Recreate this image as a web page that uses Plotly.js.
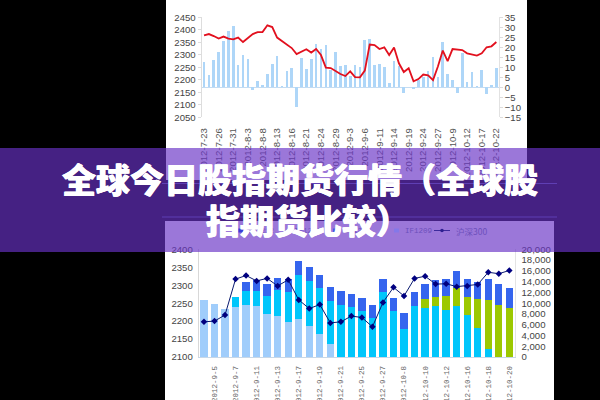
<!DOCTYPE html>
<html><head><meta charset="utf-8">
<script src="https://cdn.plot.ly/plotly-3.0.1.min.js"></script>
<style>html,body{margin:0;padding:0;background:#000;overflow:hidden}#c{width:600px;height:400px}</style>
</head><body><div id="c"></div>
<script>
const topDates=["2012-7-23","2012-7-24","2012-7-25","2012-7-26","2012-7-27","2012-7-30","2012-7-31","2012-8-1","2012-8-2","2012-8-3","2012-8-6","2012-8-7","2012-8-8","2012-8-9","2012-8-10","2012-8-13","2012-8-14","2012-8-15","2012-8-16","2012-8-17","2012-8-20","2012-8-21","2012-8-22","2012-8-23","2012-8-24","2012-8-27","2012-8-28","2012-8-29","2012-8-30","2012-8-31","2012-9-3","2012-9-4","2012-9-5","2012-9-6","2012-9-7","2012-9-10","2012-9-11","2012-9-12","2012-9-13","2012-9-14","2012-9-17","2012-9-18","2012-9-19","2012-9-20","2012-9-21","2012-9-24","2012-9-25","2012-9-26","2012-9-27","2012-9-28","2012-10-8","2012-10-9","2012-10-10","2012-10-11","2012-10-12","2012-10-15","2012-10-16","2012-10-17","2012-10-18","2012-10-19","2012-10-22"];
const topTicks=["2012-7-23","2012-7-26","2012-7-31","2012-8-3","2012-8-8","2012-8-13","2012-8-16","2012-8-21","2012-8-24","2012-8-29","2012-9-3","2012-9-6","2012-9-11","2012-9-14","2012-9-19","2012-9-24","2012-9-27","2012-10-9","2012-10-12","2012-10-17","2012-10-22"];
const topBars=[12.7,6.3,13.8,17.7,23.3,28,30.5,11,16.3,14.2,-1.2,3.3,1.3,6.5,11.8,15.8,0.5,8,9.7,-10,14.7,9.3,14.2,21.5,19.3,21.3,8.8,17.5,10.5,11,5.8,11.3,10,23.5,24.3,11,11.7,10.3,2.2,13.3,10.8,-2.8,0.4,-0.8,3.8,5.2,8.3,15.2,5.2,22.7,6.5,3.7,-2.7,17.2,2.7,7.7,0.7,8.7,-3.5,1.3,9.7];
const topLine=[2378,2383,2375,2365,2373,2365,2362,2369,2351,2369,2383,2391,2391,2418,2411,2369,2355,2339,2327,2303,2314,2322,2309,2323,2299,2249,2247,2235,2223,2215,2234,2211,2210,2237,2341,2339,2323,2330,2299,2329,2266,2231,2246,2194,2203,2221,2218,2199,2253,2317,2275,2323,2322,2319,2306,2301,2297,2306,2330,2334,2351];
const topLeftTicks=[2050,2100,2150,2200,2250,2300,2350,2400,2450];
const topRightTicks=[-15,-10,-5,0,5,10,15,20,25,30,35];

const botDates=["2012-9-4","2012-9-5","2012-9-6","2012-9-7","2012-9-10","2012-9-11","2012-9-12","2012-9-13","2012-9-14","2012-9-17","2012-9-18","2012-9-19","2012-9-20","2012-9-21","2012-9-24","2012-9-25","2012-9-26","2012-9-27","2012-9-28","2012-10-8","2012-10-9","2012-10-10","2012-10-11","2012-10-12","2012-10-15","2012-10-16","2012-10-17","2012-10-18","2012-10-19","2012-10-20"];
const botTicks=["2012-9-5","2012-9-7","2012-9-11","2012-9-13","2012-9-17","2012-9-19","2012-9-21","2012-9-25","2012-9-27","2012-10-8","2012-10-10","2012-10-12","2012-10-16","2012-10-18","2012-10-20"];
const if1209=[10590,9845,8980,9226,9721,9473,7987,7616,6501,7059,5820,4334,2477,0,0,0,0,0,0,0,0,0,0,0,0,0,0,0,0,0];
const if1210=[0,0,0,1920,2477,2725,3344,4892,5573,8173,8298,8421,7925,9659,9226,8545,7244,12074,8545,5201,9473,9164,9473,8792,9473,7864,5325,1548,0,0];
const if1211=[0,0,0,0,0,0,0,0,0,0,0,0,0,0,0,0,0,0,0,0,0,1672,1610,2601,3406,3282,5511,9102,9721,9102];
const if1212=[0,0,0,0,1796,2042,2291,2167,2353,2539,2538,2415,2539,2601,2539,2476,2415,2353,2353,2972,2539,2662,3220,3034,3158,3281,3034,3901,3777,3777];
const hs300=[2198,2200,2217,2317,2327,2312,2319,2298,2315,2259,2235,2246,2195,2198,2214,2210,2184,2252,2294,2270,2319,2325,2303,2304,2296,2298,2302,2336,2332,2341];
const botLeftTicks=[2100,2150,2200,2250,2300,2350,2400];
const botRightTicks=[0,2000,4000,6000,8000,10000,12000,14000,16000,18000,20000];
const titleLines=["全球今日股指期货行情（全球股","指期货比较）"];
const legendNames=["IF1212","IF1211","IF1210","IF1209","沪深300"];

const W=600,H=400, fx=v=>v/W, fy=v=>1-v/H;
const tickFont={family:'"Liberation Sans",Arial,sans-serif',size:9.6,color:'#444'};
const bar=(y,n,c)=>({type:'bar',x:botDates,y,name:n,xaxis:'x2',yaxis:'y3',marker:{color:c},width:0.7,hoverinfo:'skip'});
const data=[
 {type:'bar',x:topDates,y:topBars,xaxis:'x',yaxis:'y',marker:{color:'#aed6f8'},width:0.55,name:'bars'},
 {type:'scatter',mode:'lines',x:topDates,y:topLine,xaxis:'x',yaxis:'y2',line:{color:'#e2101e',width:1.8},name:'line'},
 bar(if1209,'IF1209','#a0cdfb'),
 bar(if1210,'IF1210','#00c6fb'),
 bar(if1211,'IF1211','#9cc800'),
 bar(if1212,'IF1212','#3565ee'),
 {type:'scatter',mode:'lines+markers',x:botDates,y:hs300,xaxis:'x2',yaxis:'y4',name:'沪深300',line:{color:'#0a1a70',width:1},marker:{color:'#000080',size:5,symbol:'diamond'}}
];
const rect=(x0,y0,x1,y1,color,layer)=>({type:'rect',xref:'paper',yref:'paper',x0:fx(x0),x1:fx(x1),y0:fy(y0),y1:fy(y1),fillcolor:color,line:{width:0},layer});
const hline=(y,x0,x1,color)=>({type:'line',xref:'paper',yref:'paper',x0:fx(x0),x1:fx(x1),y0:fy(y),y1:fy(y),line:{color,width:1},layer:'above'});
const dot=(x,y,r,color)=>({type:'circle',xref:'paper',yref:'paper',x0:fx(x-r),x1:fx(x+r),y0:fy(y+r),y1:fy(y-r),fillcolor:color,line:{width:0},layer:'above'});
const legendText=(t,x,size,fam)=>({xref:'paper',yref:'paper',x:fx(x),y:fy(230.5),xanchor:'left',yanchor:'middle',showarrow:false,text:t,font:{family:fam,size:size,color:'#6c4fbb'}});
const mono='"Liberation Mono",monospace';
const titleAnn=(t,x,y)=>({xref:'paper',yref:'paper',x:fx(x),y:fy(y),xanchor:'center',yanchor:'middle',showarrow:false,text:t,font:{family:'"Noto Sans CJK SC",sans-serif',size:34,color:'#fff',weight:900,shadow:'0.5px 0 0 #fff, -0.5px 0 0 #fff'}});
const clear='rgba(0,0,0,0)';
const layout={
 width:W,height:H,margin:{l:0,r:0,t:0,b:0,pad:0},paper_bgcolor:'#000',plot_bgcolor:clear,
 showlegend:false,barmode:'stack',
 xaxis:{domain:[fx(201.6),fx(498.8)],anchor:'y',type:'category',categoryorder:'array',categoryarray:topDates,range:[-0.5,60.5],tickmode:'array',tickvals:topTicks,ticktext:topTicks,tickangle:-90,ticks:'outside',ticklen:6,tickcolor:clear,showgrid:false,showline:false,zeroline:false,tickfont:{family:tickFont.family,size:9.6,color:'#555'},automargin:false},
 yaxis:{domain:[fy(117.3),fy(17.3)],anchor:'x',side:'right',range:[-15,35],tickvals:topRightTicks,ticks:'outside',ticklen:3,tickcolor:'#ddd',showline:true,linecolor:'#e2e2e2',showgrid:false,zeroline:true,zerolinecolor:'#c4dcf2',zerolinewidth:1,tickfont:tickFont,automargin:false},
 yaxis2:{overlaying:'y',anchor:'x',side:'left',range:[2050,2450],tickvals:topLeftTicks,ticks:'outside',ticklen:3,tickcolor:'#ddd',showline:true,linecolor:'#ddd',showgrid:false,zeroline:false,tickfont:tickFont,automargin:false},
 xaxis2:{domain:[fx(198.7),fx(514.6)],anchor:'y3',type:'category',categoryorder:'array',categoryarray:botDates,range:[-0.5,29.5],tickmode:'array',tickvals:botTicks,ticktext:botTicks,tickangle:-90,ticks:'outside',ticklen:5,tickcolor:clear,showgrid:false,showline:true,linecolor:'#c8d8e8',zeroline:false,tickfont:{family:mono,size:7.5,color:'#666'},automargin:false},
 yaxis3:{domain:[fy(357),fy(249.3)],anchor:'x2',side:'right',range:[0,20000],tickvals:botRightTicks,tickformat:',d',ticks:'outside',ticklen:4,tickcolor:clear,showline:true,linecolor:'#e4e4e4',showgrid:false,zeroline:false,tickfont:tickFont,automargin:false},
 yaxis4:{overlaying:'y3',anchor:'x2',side:'left',range:[2100,2400],tickvals:botLeftTicks,ticks:'outside',ticklen:3,tickcolor:clear,showline:true,linecolor:'#d8d8d8',showgrid:false,zeroline:false,tickfont:tickFont,automargin:false},
 shapes:[
  rect(166,0,527,180,'#fff','below'),
  rect(165,221,554,400,'#fff','below'),
  rect(0,148,600,252,'rgba(104,50,198,0.663)','above'),
  hline(183.5,162,557,'#5f3fb4'),
  hline(217,162,557,'#5f3fb4'),
  rect(238,228.5,243,232.5,'#3a3fd6','above'),
  rect(333,228.5,338,232.5,'#4a5ae0','above'),
  rect(394,228.5,399,232.5,'#8478e8','above'),
  hline(230.5,434,450,'#3d2a9c'),
  dot(442,230.5,1.8,'#2d1f90')
 ],
 annotations:[
  legendText(legendNames[0],245,7.5,mono),
  legendText(legendNames[1],292,7.5,mono),
  legendText(legendNames[2],342,7.5,mono),
  legendText(legendNames[3],403,7.5,mono),
  legendText(legendNames[4],454,8.5,'"Noto Sans CJK SC",sans-serif'),
  titleAnn(titleLines[0],300,178.5),
  titleAnn(titleLines[1],308,219.5)
 ]
};
Plotly.newPlot('c',data,layout,{staticPlot:true,displayModeBar:false});
</script></body></html>
